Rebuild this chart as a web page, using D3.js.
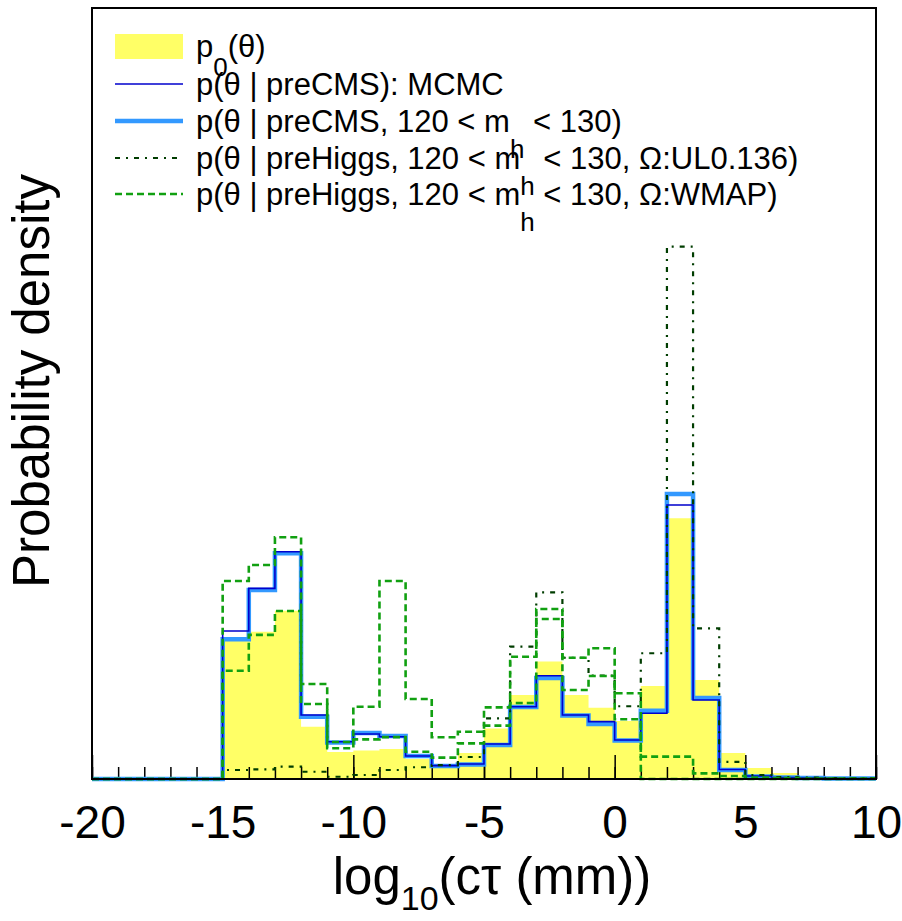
<!DOCTYPE html>
<html>
<head>
<meta charset="utf-8">
<script src="https://cdn.jsdelivr.net/npm/d3@7"></script>
<style>
  html, body { margin: 0; padding: 0; background: #fff; }
  svg { display: block; font-family: "Liberation Sans", Arial, Helvetica, sans-serif; }
</style>
</head>
<body>
<svg id="chart" width="902" height="921"></svg>
<script>
// ---- data (bins of width 1, low edges -20 ... 9) ----
const binLowEdges = [-20,-19,-18,-17,-16,-15,-14,-13,-12,-11,-10,-9,-8,-7,-6,-5,-4,-3,-2,-1,0,1,2,3,4,5,6,7,8,9];
const xMax = 10;
const xTickLabels = ["-20","-15","-10","-5","0","5","10"];
const xTickValues = [-20,-15,-10,-5,0,5,10];

const prior = [0,0,0,0,0, 0.0859,0.0917,0.1048,0.0326,0.0168,0.0177,0.0187,0.0125,0.0084,0.0162,0.0314,0.0523,0.0732,0.0523,0.0444,0.0361,0.0579,0.1623,0.0616,0.0162,0.0068,0.0037,0.0019,0.0009,0.0006];
const preCMSmcmc = [0,0,0,0,0, 0.0921,0.1187,0.1415,0.0398,0.0232,0.0280,0.0263,0.0143,0.0083,0.0093,0.0218,0.0450,0.0643,0.0398,0.0357,0.0243,0.0409,0.1706,0.0492,0.0059,0.0019,0.0009,0.0006,0.0003,0.0003];
const preCMSmh = [0,0,0,0,0, 0.0870,0.1177,0.1405,0.0388,0.0227,0.0286,0.0268,0.0143,0.0081,0.0090,0.0212,0.0448,0.0629,0.0395,0.0342,0.0240,0.0425,0.1774,0.0504,0.0056,0.0016,0.0009,0.0006,0.0003,0.0003];
const preHiggsUL = [0,0,0,0,0, 0.0056,0.0060,0.0077,0.0045,0.0014,0.0025,0.0056,0.0073,0.0087,0.0137,0.0378,0.0824,0.1162,0.0755,0.0643,0.0453,0.0783,0.3314,0.0938,0.0106,0.0025,0.0012,0.0009,0.0006,0.0006];
const preHiggsWMAP = [0,0,0,0,0, 0.1233,0.1332,0.1505,0.0591,0.0191,0.0450,0.1233,0.0498,0.0260,0.0294,0.0446,0.0761,0.1058,0.0755,0.0814,0.0372,0,0,0,0,0,0,0,0,0];
const preHiggsWMAP2 = [0,0,0,0,0, 0.0674,0.0897,0.1046,0.0467,0.0230,0.0247,0.0261,0.0170,0.0133,0.0222,0.0332,0.0473,0.0996,0.0554,0.0641,0.0534,0.0139,0.0139,0.0035,0.0019,0.0009,0.0006,0.0003,0.0003,0.0003];

const legendLabels = [
  [{t:"p"},{t:"0",sub:true,dy:19},{t:"(θ)"}],
  [{t:"p(θ | preCMS): MCMC"}],
  [{t:"p(θ | preCMS, 120 < m"},{t:"h",sub:true,dy:26},{t:" < 130)"}],
  [{t:"p(θ | preHiggs, 120 < m"},{t:"h",sub:true,dy:26},{t:" < 130, Ω:UL0.136)"}],
  [{t:"p(θ | preHiggs, 120 < m"},{t:"h",sub:true,dy:26},{t:" < 130, Ω:WMAP)"}]
];

// ---- layout ----
const L = 92, R = 876, T = 8, B = 779;
const svg = d3.select("#chart");
const x = d3.scaleLinear().domain([-20, 10]).range([L, R]);
const y = d3.scaleLinear().domain([0, 0.48]).range([B, T]);

function stepPoints(vals) {
  const pts = binLowEdges.map((e, i) => [e, vals[i]]);
  pts.push([xMax, vals[vals.length - 1]]);
  return pts;
}
const line = d3.line().x(d => x(d[0])).y(d => y(d[1])).curve(d3.curveStepAfter);
const area = d3.area().x(d => x(d[0])).y0(y(0)).y1(d => y(d[1])).curve(d3.curveStepAfter);

// prior fill
svg.append("path").attr("d", area(stepPoints(prior))).attr("fill", "#ffff66").attr("stroke", "none");

// axis ticks (inside, upward)
const minorAxis = d3.axisBottom(x).tickValues(binLowEdges.concat([xMax])).tickSize(-12).tickFormat("");
const gMinor = svg.append("g").attr("transform", `translate(0,${B})`).call(minorAxis);
gMinor.select(".domain").remove();
gMinor.selectAll("line").attr("stroke", "#000").attr("stroke-width", 1.5);

const majorAxis = d3.axisBottom(x).tickValues(xTickValues).tickSize(-24)
  .tickFormat((d, i) => xTickLabels[i]).tickPadding(26);
const gMajor = svg.append("g").attr("transform", `translate(0,${B})`).call(majorAxis);
gMajor.select(".domain").remove();
gMajor.selectAll("line").attr("stroke", "#000").attr("stroke-width", 1.5);
gMajor.selectAll("text").attr("font-size", 46).attr("fill", "#000")
  .attr("font-family", "'Liberation Sans', Arial, sans-serif");

// histogram lines
svg.append("path").attr("d", line(stepPoints(preCMSmh))).attr("fill", "none")
  .attr("stroke", "#3399ff").attr("stroke-width", 4.5);
svg.append("path").attr("d", line(stepPoints(preCMSmcmc))).attr("fill", "none")
  .attr("stroke", "#0000cc").attr("stroke-width", 1.6);
svg.append("path").attr("d", line(stepPoints(preHiggsUL))).attr("fill", "none")
  .attr("stroke", "#003d00").attr("stroke-width", 2.2).attr("stroke-dasharray", "5,6,2,6");
svg.append("path").attr("d", line(stepPoints(preHiggsWMAP2))).attr("fill", "none")
  .attr("stroke", "#11a011").attr("stroke-width", 2.6).attr("stroke-dasharray", "7,4");
svg.append("path").attr("d", line(stepPoints(preHiggsWMAP))).attr("fill", "none")
  .attr("stroke", "#11a011").attr("stroke-width", 2.6).attr("stroke-dasharray", "7,4");

// frame
svg.append("rect").attr("x", L).attr("y", T).attr("width", R - L).attr("height", B - T)
  .attr("fill", "none").attr("stroke", "#000").attr("stroke-width", 2);

// axis titles
const xt = svg.append("text").attr("x", 492).attr("y", 894).attr("text-anchor", "middle")
  .attr("font-size", 51).attr("fill", "#000");
xt.append("tspan").text("log");
xt.append("tspan").text("10").attr("font-size", 34).attr("dy", 16);
xt.append("tspan").text("(cτ (mm))").attr("dy", -16);

svg.append("text").attr("transform", "translate(49,381) rotate(-90)").attr("text-anchor", "middle")
  .attr("font-size", 51).attr("fill", "#000").text("Probability density");

// legend
const legendStyles = [
  {type: "fill", color: "#ffff66"},
  {type: "line", color: "#0000cc", w: 1.6, dash: null},
  {type: "line", color: "#3399ff", w: 4.5, dash: null},
  {type: "line", color: "#003d00", w: 2.2, dash: "5,6,2,6"},
  {type: "line", color: "#11a011", w: 2.6, dash: "7,4"}
];
const rowCenters = [46, 84, 121, 158, 194];
const lg = svg.append("g");
legendLabels.forEach((parts, i) => {
  const cy = rowCenters[i];
  const st = legendStyles[i];
  if (st.type === "fill") {
    lg.append("rect").attr("x", 115).attr("y", cy - 12).attr("width", 68).attr("height", 25).attr("fill", st.color);
  } else {
    lg.append("line").attr("x1", 115).attr("x2", 183).attr("y1", cy).attr("y2", cy)
      .attr("stroke", st.color).attr("stroke-width", st.w).attr("stroke-dasharray", st.dash);
  }
  const t = lg.append("text").attr("x", 196).attr("y", cy + 11)
    .attr("font-size", 31).attr("fill", "#000");
  let offset = 0;
  parts.forEach(p => {
    const ts = t.append("tspan").text(p.t);
    if (p.sub) { ts.attr("dy", p.dy).attr("font-size", 26); offset = p.dy; }
    else if (offset) { ts.attr("dy", -offset); offset = 0; }
  });
});
</script>
</body>
</html>
